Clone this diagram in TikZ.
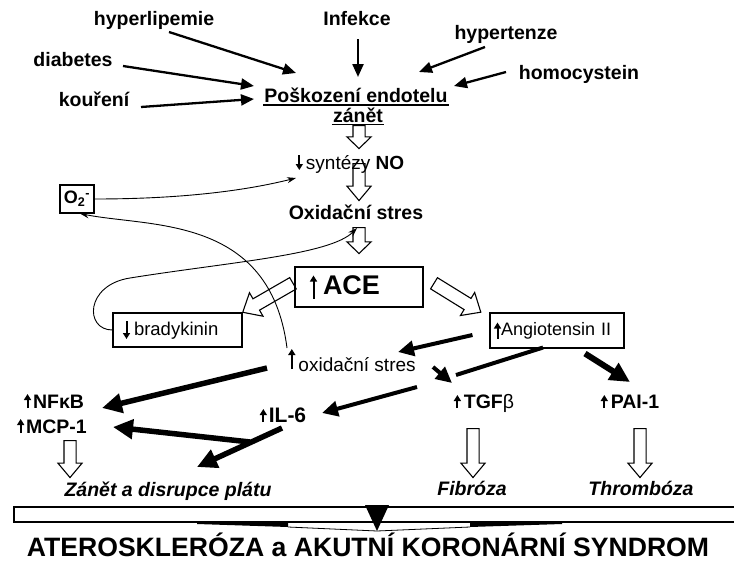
\documentclass[tikz,border=0pt]{standalone}
\usepackage{fontspec}
\setmainfont{Liberation Sans}
\usetikzlibrary{arrows.meta,shapes.arrows,calc}

% small up/down arrow in front of a label
\newcommand{\vArrow}[2]{\tikz[baseline=0pt]\draw[line width=2pt,-{Triangle[length=6pt,width=7pt]}] (0pt,#1pt) -- (0pt,#2pt);}

\begin{document}
\begin{tikzpicture}[x=1pt, y=-1pt,
lab/.style={font=\bfseries\fontsize{19.5}{22}\selectfont, inner sep=1pt, anchor=base},
reg/.style={font=\fontsize{19}{22}\selectfont, inner sep=1pt, anchor=base},
res/.style={font=\bfseries\itshape\fontsize{19.5}{22}\selectfont, inner sep=1pt, anchor=base},
boxed/.style={draw, line width=1.1pt, inner sep=0pt},
med/.style={line width=2.3pt, -{Triangle[length=13pt,width=11pt]}},
mid/.style={line width=4pt, -{Triangle[length=16pt,width=15pt]}},
fat/.style={line width=5.5pt, -{Triangle[length=20pt,width=19pt]}},
curv/.style={line width=0.9pt, -{Stealth[length=9pt,width=6pt]}},
hol/.style={single arrow, draw, line width=1.1pt, inner sep=0pt, text height=11pt,
  single arrow head extend=6pt, single arrow tip angle=80, anchor=tail},
holw/.style={hol, text height=12pt, single arrow head extend=7pt, single arrow tip angle=82},
uline/.style={line width=1.6pt}]

\useasboundingbox (0,0) rectangle (734,562);

% causes
\node[lab] (hyper) at (154,25) {hyperlipemie};
\node[lab] (infekce) at (357,25) {Infekce};
\node[lab] (hypert) at (506,39) {hypertenze};
\node[lab] (diab) at (73,66) {diabetes};
\node[lab] (homo) at (579,79) {homocystein};
\node[lab] (kour) at (94,106) {kouření};
\node[lab] (posk) at (356,102) {Poškození endotelu};
\node[lab] (zanet) at (358,122) {zánět};
\draw[uline] ([shift={(0,3)}]posk.base west) -- ([shift={(0,3)}]posk.base east);
\draw[uline] ([shift={(0,2.5)}]zanet.base west) -- ([shift={(0,2.5)}]zanet.base east);

\draw[med] ([shift={(15,7)}]hyper.base) -- ([shift={(-60,-29)}]posk.base);
\draw[med] ([shift={(1,14)}]infekce.base) -- ([shift={(2,-25)}]posk.base);
\draw[med] ([shift={(-21,8)}]hypert.base) -- ([shift={(63,-30)}]posk.base);
\draw[med] ([shift={(50,0)}]diab.base) -- ([shift={(-102,-16)}]posk.base);
\draw[med] ([shift={(-73,-7)}]homo.base) -- ([shift={(98,-16)}]posk.base);
\draw[med] ([shift={(47,1)}]kour.base) -- ([shift={(-102,-3)}]posk.base);

% middle column
\node[reg] (synt) at (350,169) {\vArrow{14}{-1}\,syntézy \textbf{NO}};
\node[lab] (oxid) at (356,219) {Oxidační stres};
\node[boxed, minimum width=34, minimum height=28, font=\bfseries\fontsize{18}{20}\selectfont] (o2) at (77,199) {O\textsubscript{2}\textsuperscript{-}};
\node[boxed, minimum height=40, text width=98, inner xsep=15, align=left, font=\bfseries\fontsize{27}{30}\selectfont] (ace) at (359,287) {\vArrow{-4}{19}\hspace{6pt}ACE};
\node[boxed, minimum height=34, text width=109, inner xsep=10, align=left, font=\fontsize{18.5}{22}\selectfont] (brady) at (177.5,330) {\vArrow{14}{-4}\hspace{4pt}bradykinin};
\node[boxed, minimum height=35, text width=126, inner xsep=4, align=left, font=\fontsize{18}{22}\selectfont] (angio) at (557,330.5) {\vArrow{-3}{13}Angiotensin II};
\node[reg] (oxs) at (352,371) {\vArrow{2}{22}\,oxidační stres};

\node[hol, rotate=-90, minimum height=23, single arrow tip angle=92] (h1) at ([shift={(1,3)}]zanet.base) {};
\node[hol, rotate=-90, minimum height=37] (h2) at ([shift={(9,-6)}]synt.base) {};
\node[hol, rotate=-90, minimum height=26, single arrow tip angle=92] (h3) at ([shift={(3,8)}]oxid.base) {};
\node[holw, rotate=210, minimum height=58] (h4) at ([shift={(-1,-4)}]ace.west) {};
\node[holw, rotate=-31.7, minimum height=55] (h5) at ([shift={(10,-4)}]ace.east) {};

% feedback loops
\draw[curv] (o2.east) .. controls +(100,0) and +(-40,10) .. ([shift={(-54,9)}]synt.base);
\draw[curv] ([shift={(-65,-23)}]oxs.base) .. controls +(-17,-133) and +(70,14) .. ([xshift=3pt]o2.south);
\draw[curv] (brady.west) .. controls +(-28,0) and +(-45,7) .. (130,278)
  .. controls +(100,-16) and +(-27,27) .. ([shift={(1,9)}]oxid.base);

% mediators
\node[lab] (nfkb) at (54,408) {\vArrow{0}{14}\hspace{2pt}NFκB};
\node[lab] (mcp) at (52,433) {\vArrow{0}{14}\hspace{2pt}MCP-1};
\node[lab, font=\bfseries\fontsize{21}{24}\selectfont] (il6) at (283,422) {\vArrow{0}{13}\hspace{2pt}IL-6};
\node[lab] (tgf) at (484,408) {\vArrow{0}{13}\hspace{3pt}TGF\textmd{β}};
\node[lab] (pai) at (630,408) {\vArrow{0}{13}\hspace{3pt}PAI-1};

% outcomes
\node[res] (zan2) at (168,496) {Zánět a disrupce plátu};
\node[res] (fib) at (472,495) {Fibróza};
\node[res] (trom) at (641,495) {Thrombóza};

\draw[mid] ([shift={(-17,4.5)}]angio.west) -- ([shift={(46,-19)}]oxs.base);
\draw[mid] ([shift={(81,-4)}]oxs.base) -- ([shift={(-32,-25)}]tgf.base);
\draw[line width=4pt] ([shift={(-14,-1)}]angio.south) -- ([shift={(-28,-33)}]tgf.base);
\draw[fat, line width=6pt] ([shift={(28,5)}]angio.south) -- ([shift={(0,-26)}]pai.base);
\draw[fat] ([shift={(-85,-3)}]oxs.base) -- ([shift={(48,0)}]nfkb.base);
\draw[mid] ([shift={(-67,-21)}]tgf.base) -- ([shift={(39,-9)}]il6.base);
\draw[fat] ([shift={(-33,20)}]il6.base) -- ([shift={(61,-6)}]mcp.base);
\draw[fat] ([shift={(-1,6)}]il6.base) -- ([shift={(29,-29)}]zan2.base);

\node[hol, rotate=-90, minimum height=37] (h6) at ([shift={(18,7)}]mcp.base) {};
\node[hol, rotate=-90, minimum height=49] (h7) at ([shift={(-11,20)}]tgf.base) {};
\node[hol, rotate=-90, minimum height=49] (h8) at ([shift={(10,20)}]pai.base) {};

% bottom bar
\draw[line width=1.2pt] (14,507) rectangle (745,522);
\fill (365,505) -- (389,505) -- (377,531) -- cycle;
\fill (197,522) -- (288,522) -- (288,527) -- (197,524) -- cycle;
\fill (470,522) -- (562,522) -- (562,524) -- (470,527) -- cycle;
\draw[line width=0.8pt] (288,527) -- (377,531) -- (470,527);

\node[anchor=base, inner sep=0pt, font=\bfseries\fontsize{26.6}{30}\selectfont] (title) at (368,556) {ATEROSKLERÓZA a AKUTNÍ KORONÁRNÍ SYNDROM};
\end{tikzpicture}
\end{document}
